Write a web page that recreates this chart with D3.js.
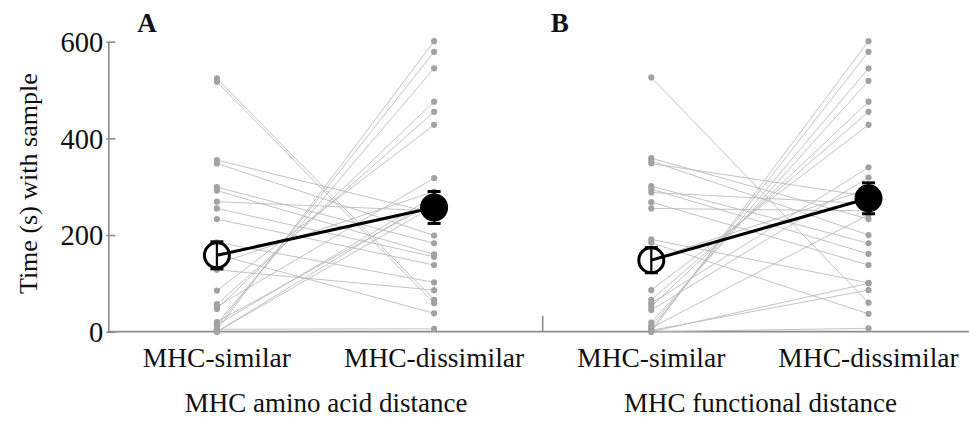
<!DOCTYPE html>
<html>
<head>
<meta charset="utf-8">
<script src="https://cdn.jsdelivr.net/npm/d3@7"></script>
<style>
  html, body { margin: 0; padding: 0; background: #fff; }
  svg { display: block; }
  text { font-family: "Liberation Serif", "Times New Roman", serif; fill: #111; }
</style>
</head>
<body>
<svg id="chart" width="969" height="421"></svg>
<script>
// Time spent with each sample; one pair of values per subject
const conditions = ["MHC-similar", "MHC-dissimilar"];
const panelLetters = ["A", "B"];
const panelTitles = ["MHC amino acid distance", "MHC functional distance"];
const yTicks = [0, 200, 400, 600];

// Panel A: amino acid distance (similar, dissimilar), paired by subject
const aminoSimilar    = [524, 517, 355, 348, 299, 292, 269, 255, 233, 185, 160, 140, 128, 85, 57, 52, 47, 20, 17, 14, 10, 5, 3, 0, 0];
const aminoDissimilar = [66, 59, 245, 199, 183, 160, 250, 155, 138, 102, 38, 290, 86, 428, 455, 318, 476, 268, 545, 280, 579, 6, 601, 275, 260];

// Panel B: functional distance (similar, dissimilar), paired by subject
const functionalSimilar    = [526, 359, 353, 348, 301, 295, 288, 268, 255, 191, 184, 150, 86, 66, 59, 52, 45, 19, 12, 8, 5, 3, 0, 0, 0];
const functionalDissimilar = [60, 233, 200, 280, 183, 161, 265, 138, 250, 101, 37, 295, 428, 455, 340, 476, 319, 519, 545, 242, 579, 86, 601, 7, 100];

// Group means and standard errors (similar, dissimilar)
const aminoMean = [158, 257];
const aminoSE = [28, 33];
const functionalMean = [148, 276];
const functionalSE = [26, 32];

const panels = [
  { letter: panelLetters[0], title: panelTitles[0], a: aminoSimilar, b: aminoDissimilar, mean: aminoMean, se: aminoSE },
  { letter: panelLetters[1], title: panelTitles[1], a: functionalSimilar, b: functionalDissimilar, mean: functionalMean, se: functionalSE }
];

const svg = d3.select("#chart");
const axisColor = "#8c8c8c";
const left = 108.3, panelW = 434.4;
const y = d3.scaleLinear().domain([0, 600]).range([331.7, 41.7]);

// y axis with inward ticks
const yAxis = svg.append("g")
  .attr("transform", `translate(${left},0)`)
  .call(d3.axisLeft(y).tickValues(yTicks).tickSizeInner(-7).tickSizeOuter(0).tickPadding(5));
yAxis.select(".domain").attr("stroke", axisColor).attr("stroke-width", 1.6);
yAxis.selectAll(".tick line").attr("stroke", axisColor).attr("stroke-width", 1.6).attr("x1", -2);
yAxis.selectAll(".tick text")
  .style("font-family", '"Liberation Serif", serif')
  .style("font-size", "28.5px").attr("fill", "#111").attr("dy", "0.34em");

svg.append("text")
  .attr("transform", `translate(37,${(y(0) + y(600)) / 2 - 3}) rotate(-90)`)
  .attr("text-anchor", "middle")
  .style("font-size", "26px")
  .text("Time (s) with sample");

// x axis baseline across both panels, with a divider tick between them
svg.append("line")
  .attr("x1", left).attr("x2", 969)
  .attr("y1", y(0)).attr("y2", y(0))
  .attr("stroke", axisColor).attr("stroke-width", 1.8);
svg.append("line")
  .attr("x1", left + panelW).attr("x2", left + panelW)
  .attr("y1", y(0)).attr("y2", y(0) - 16)
  .attr("stroke", axisColor).attr("stroke-width", 1.6);

panels.forEach((p, i) => {
  const x0 = left + i * panelW;
  const x = d3.scalePoint().domain(conditions).range([x0, x0 + panelW]).padding(0.5);
  const g = svg.append("g");
  const pairs = p.a.map((v, k) => [v, p.b[k]]);

  // individual subject lines
  g.selectAll("line.subject").data(pairs).join("line")
    .attr("class", "subject")
    .attr("x1", x(conditions[0])).attr("x2", x(conditions[1]))
    .attr("y1", d => y(d[0])).attr("y2", d => y(d[1]))
    .attr("stroke", "#b8b8b8").attr("stroke-opacity", 0.85).attr("stroke-width", 1);

  // individual points
  conditions.forEach((c, ci) => {
    g.selectAll(`circle.pt${ci}`).data(ci === 0 ? p.a : p.b).join("circle")
      .attr("class", `pt${ci}`)
      .attr("cx", x(c)).attr("cy", d => y(d)).attr("r", 3.1)
      .attr("fill", "#a2a2a2");
  });

  // mean line
  g.append("line")
    .attr("x1", x(conditions[0])).attr("x2", x(conditions[1]))
    .attr("y1", y(p.mean[0])).attr("y2", y(p.mean[1]))
    .attr("stroke", "#000").attr("stroke-width", 3);

  // mean markers with standard-error bars
  conditions.forEach((c, ci) => {
    const cx = x(c), m = p.mean[ci], s = p.se[ci];
    g.append("circle")
      .attr("cx", cx).attr("cy", y(m)).attr("r", 12.5)
      .attr("fill", ci === 0 ? "#fff" : "#000")
      .attr("stroke", "#000").attr("stroke-width", 3);
    g.append("line")
      .attr("x1", cx).attr("x2", cx).attr("y1", y(m - s)).attr("y2", y(m + s))
      .attr("stroke", "#000").attr("stroke-width", 2.2);
    [m - s, m + s].forEach(v => {
      g.append("line")
        .attr("x1", cx - 6.5).attr("x2", cx + 6.5).attr("y1", y(v)).attr("y2", y(v))
        .attr("stroke", "#000").attr("stroke-width", 3);
    });
    if (ci === 0) {
      // short segment of the mean line inside the open marker
      const slope = (y(p.mean[1]) - y(m)) / (x(conditions[1]) - cx);
      g.append("line")
        .attr("x1", cx).attr("y1", y(m))
        .attr("x2", cx + 12).attr("y2", y(m) + slope * 12)
        .attr("stroke", "#000").attr("stroke-width", 3);
    }
  });

  // category labels
  conditions.forEach(c => {
    svg.append("text")
      .attr("x", x(c)).attr("y", 367)
      .attr("text-anchor", "middle")
      .style("font-size", "27.5px")
      .text(c);
  });

  // panel title under the categories
  svg.append("text")
    .attr("x", x0 + panelW * 0.5 + 0.7).attr("y", 411.5)
    .attr("text-anchor", "middle")
    .style("font-size", "27px")
    .text(p.title);

  // panel letter
  svg.append("text")
    .attr("x", x0 + (i === 0 ? 29 : 8)).attr("y", 31.5)
    .style("font-size", "27px").style("font-weight", "bold")
    .text(p.letter);
});
</script>
</body>
</html>
